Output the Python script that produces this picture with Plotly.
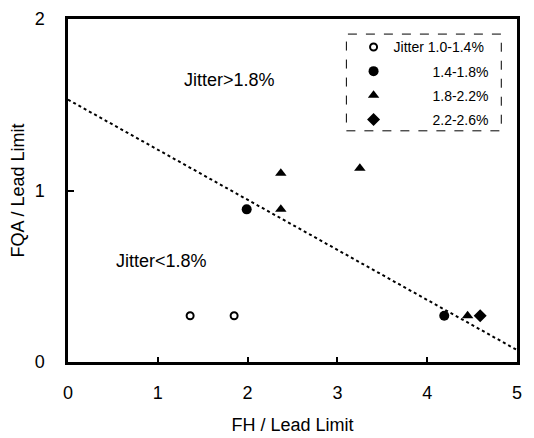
import plotly.graph_objects as go

# data
open_x = [1.36, 1.85]
open_y = [0.27, 0.27]
circ_x = [1.99, 4.19]
circ_y = [0.89, 0.27]
tri_x = [2.37, 2.37, 3.25, 4.45]
tri_y = [1.10, 0.89, 1.13, 0.27]
dia_x = [4.59]
dia_y = [0.27]
line_x = [0, 5]
line_y = [1.53, 0.07]

names = ["Jitter 1.0-1.4%", "1.4-1.8%", "1.8-2.2%", "2.2-2.6%"]

F = "Liberation Sans, Arial, sans-serif"
fig = go.Figure()
fig.add_trace(go.Scatter(x=line_x, y=line_y, mode="lines", showlegend=False,
                         line=dict(color="black", width=2, dash="dot")))
fig.add_trace(go.Scatter(x=open_x, y=open_y, mode="markers", name=names[0], legendgroup="a",
                         marker=dict(symbol="circle-open", size=7, color="black", line=dict(width=2))))
pad = "\u00a0" * 10
fig.add_trace(go.Scatter(x=circ_x, y=circ_y, mode="markers", name=pad + names[1], legendgroup="b",
                         marker=dict(symbol="circle", size=10, color="black")))
fig.add_trace(go.Scatter(x=tri_x, y=tri_y, mode="markers", name=pad + names[2], legendgroup="c",
                         marker=dict(symbol="triangle-up", size=10, color="black")))
fig.add_trace(go.Scatter(x=dia_x, y=dia_y, mode="markers", name=pad + names[3], legendgroup="d",
                         marker=dict(symbol="diamond", size=10, color="black")))

fig.add_annotation(x=1.80, y=1.645, text="Jitter>1.8%", showarrow=False, xref="x", yref="y",
                   font=dict(family=F, size=18, color="black"))
fig.add_annotation(x=1.04, y=0.59, text="Jitter<1.8%", showarrow=False, xref="x", yref="y",
                   font=dict(family=F, size=18, color="black"))

fig.add_shape(type="rect", xref="paper", yref="paper", x0=0.62, x1=0.965, y0=0.674, y1=0.956,
              line=dict(color="black", width=1, dash="dash"))

# the page body adds an 8px offset, so the figure is 8px smaller on each axis
fig.update_layout(
    width=526, height=430,
    margin=dict(l=60, r=17, t=11, b=76),
    paper_bgcolor="white", plot_bgcolor="white",
    font=dict(family=F, color="black"),
    legend=dict(x=0.636, y=0.964, xanchor="left", yanchor="top", bgcolor="rgba(0,0,0,0)",
                font=dict(family=F, size=14, color="black"), itemwidth=30, tracegroupgap=3),
    xaxis=dict(range=[0, 5], tickvals=[0, 1, 2, 3, 4, 5], ticks="inside", ticklen=5, tickwidth=2,
               tickcolor="black", showline=True, linewidth=2.5, linecolor="black", mirror=True,
               showgrid=False, zeroline=False, tickfont=dict(size=18), ticklabelstandoff=13,
               automargin=False,
               title=dict(text="FH / Lead Limit", font=dict(size=18), standoff=17)),
    yaxis=dict(range=[0, 2], tickvals=[0, 1, 2], ticks="inside", ticklen=6, tickwidth=2,
               tickcolor="black", showline=True, linewidth=2.5, linecolor="black", mirror=True,
               showgrid=False, zeroline=False, tickfont=dict(size=18), ticklabelstandoff=17,
               automargin=False,
               title=dict(text="FQA / Lead Limit", font=dict(size=18), standoff=10)),
)
fig.write_html("out.html")
